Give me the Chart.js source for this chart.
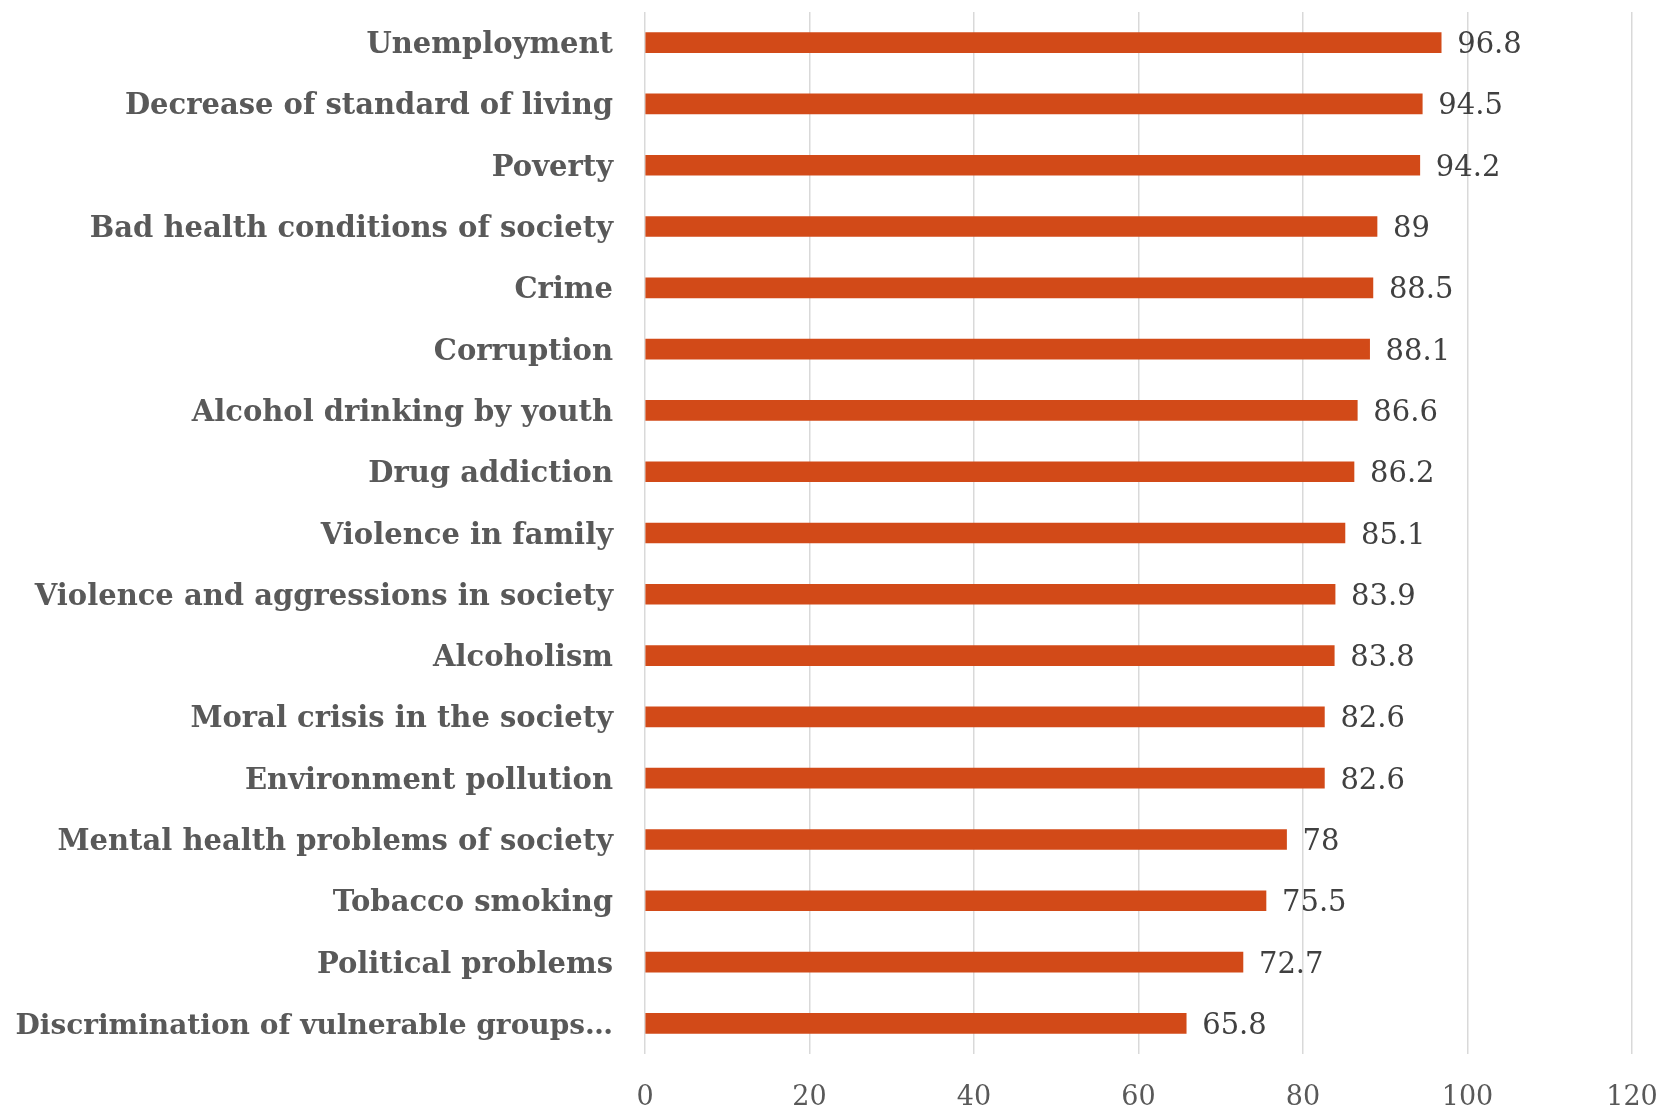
<!DOCTYPE html>
<html>
<head>
<meta charset="utf-8">
<script src="https://cdn.jsdelivr.net/npm/chart.js@4.4.0/dist/chart.umd.min.js"></script>
<style>
  body { margin: 0; background: #ffffff; }
</style>
</head>
<body>
<canvas id="canvasBar" width="1664" height="1111"></canvas>
<script>
// categories and values
var labels = ['Unemployment',
              'Decrease of standard of living',
              'Poverty',
              'Bad health conditions of society',
              'Crime',
              'Corruption',
              'Alcohol drinking by youth',
              'Drug addiction',
              'Violence in family',
              'Violence and aggressions in society',
              'Alcoholism',
              'Moral crisis in the society',
              'Environment pollution',
              'Mental health problems of society',
              'Tobacco smoking',
              'Political problems',
              'Discrimination of vulnerable groups…'];
var values = [96.8, 94.5, 94.2, 89, 88.5, 88.1, 86.6, 86.2, 85.1, 83.9, 83.8, 82.6, 82.6, 78, 75.5, 72.7, 65.8];
var xTicks = [0, 20, 40, 60, 80, 100, 120];

// value labels at the end of each bar
var valueLabels = {
  id: 'valueLabels',
  afterDatasetsDraw: function(chart) {
    var c = chart.ctx;
    var meta = chart.getDatasetMeta(0);
    c.save();
    c.font = '29px "DejaVu Serif"';
    c.fillStyle = '#404040';
    c.textAlign = 'left';
    c.textBaseline = 'middle';
    meta.data.forEach(function(bar, i) {
      c.fillText(String(values[i]), bar.x + 16, bar.y + 3);
    });
    c.restore();
  }
};

var ctx = document.getElementById('canvasBar').getContext('2d');
var barChart = new Chart(ctx, {
  type: 'bar',
  data: {
    labels: labels,
    datasets: [{
      data: values,
      backgroundColor: '#D24A18',
      borderWidth: 0,
      barThickness: 20
    }]
  },
  plugins: [valueLabels],
  options: {
    indexAxis: 'y',
    responsive: false,
    animation: false,
    layout: { padding: { top: 12, right: 32, left: 0, bottom: 0 } },
    plugins: {
      legend: { display: false },
      tooltip: { enabled: false }
    },
    scales: {
      x: {
        min: 0,
        max: 120,
        afterBuildTicks: function(scale) {
          scale.ticks = xTicks.map(function(v) { return { value: v }; });
        },
        afterFit: function(scale) {
          scale.height = 57;
          scale.paddingLeft = 0;
          scale.paddingRight = 0;
        },
        grid: { color: '#D9D9D9', lineWidth: 1.5, drawTicks: false },
        border: { display: false },
        ticks: {
          padding: 28,
          color: '#595959',
          font: { family: 'DejaVu Serif', size: 27 }
        }
      },
      y: {
        afterFit: function(scale) {
          scale.width = 645;
          scale.paddingTop = 0;
          scale.paddingBottom = 0;
        },
        grid: { display: false, drawTicks: false },
        border: { display: false },
        ticks: {
          padding: 32,
          labelOffset: 3,
          color: '#595959',
          autoSkip: false,
          font: function(c) {
            // the long last label is a bit smaller so it fits
            var s = (c.index === labels.length - 1) ? 28 : 29;
            return { family: 'DejaVu Serif', size: s, weight: 'bold' };
          }
        }
      }
    }
  }
});
</script>
</body>
</html>
